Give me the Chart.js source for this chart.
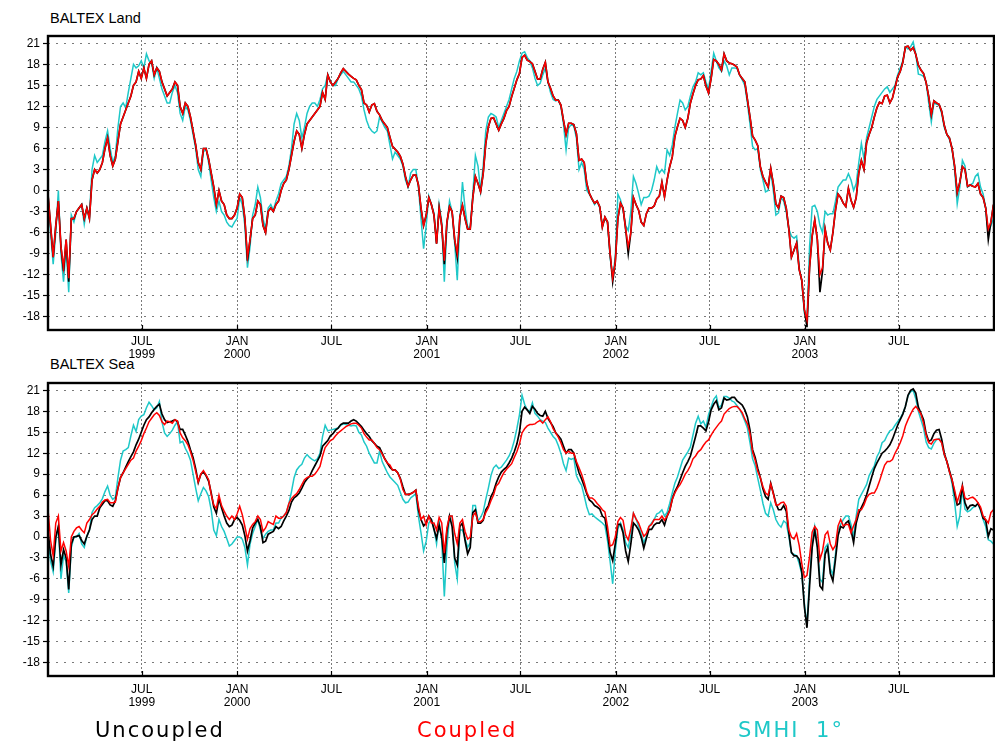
<!DOCTYPE html>
<html>
<head>
<meta charset="utf-8">
<title>BALTEX Land / Sea</title>
<script src="https://cdn.jsdelivr.net/npm/chart.js@4.4.1/dist/chart.umd.min.js"></script>
<style>
  html, body { margin: 0; padding: 0; background: #fff; }
  body { width: 995px; height: 742px; position: relative; overflow: hidden; }
  .panel { position: absolute; left: 0; }
  .txt { position: absolute; white-space: pre; }
  .title { font: 14.5px "Liberation Sans", Arial, sans-serif; line-height: 15px; color: #000; }
  .legend { font: 21px "DejaVu Sans", sans-serif; line-height: 20px; letter-spacing: 2px; }
</style>
</head>
<body>
<div class="txt title" style="left:50px; top:11px;">BALTEX Land</div>
<div class="txt title" style="left:50px; top:357px;">BALTEX Sea</div>

<div class="panel" style="top:0px;"><canvas id="land" width="995" height="372"></canvas></div>
<div class="panel" style="top:372px;"><canvas id="sea" width="995" height="370"></canvas></div>

<div class="txt legend" style="left:95px; top:720px; color:#000;">Uncoupled</div>
<div class="txt legend" style="left:417px; top:720px; color:#ff0000;">Coupled</div>
<div class="txt legend" style="left:738px; top:720px; color:#1ec8c8; word-spacing:8px;">SMHI 1°</div>

<script>
const STEP_DAYS = 5;
const N_POINTS = 366;

// x axis: day of JAN/JUL marks and their labels
const xTickDays = [181, 365, 547, 731, 912, 1096, 1277, 1461, 1642];
const xTickLabels = [['JUL', '1999'], ['JAN', '2000'], 'JUL', ['JAN', '2001'], 'JUL', ['JAN', '2002'], 'JUL', ['JAN', '2003'], 'JUL'];
const yTicks = [-18, -15, -12, -9, -6, -3, 0, 3, 6, 9, 12, 15, 18, 21];

// ---- BALTEX Land ----
const landCoupled = [
  -0.5, -5, -9.5, -5, -1.5, -8, -11, -7, -12.5, -4,
  -4, -3, -2.5, -2, -4, -2.5, -4, 1.5, 3, 2.5,
  3, 4, 6, 7.5, 5, 3.5, 4.5, 7, 9.5, 10.5,
  11.5, 12.5, 13.5, 15, 15.5, 17, 16, 17.5, 16, 18,
  18.5, 16.5, 17.5, 17, 15.5, 14.5, 13.5, 14, 14.5, 15.5,
  15, 12, 11, 12.5, 12, 10.5, 8.5, 6.5, 4, 3,
  6, 6, 4.5, 2.5, 0.5, -2, 0, -1.5, -2, -3.5,
  -4, -4, -3.5, -2.5, -0.5, -1, -4, -9.5, -7, -4,
  -3.5, -1.5, -2, -5, -6, -3, -2.5, -3, -2, -1.5,
  0, 1, 1.5, 3, 5, 7, 8.5, 8, 6, 8,
  9.5, 10, 10.5, 11, 11.5, 12, 14, 13, 16.5, 15.5,
  15, 15.5, 16, 16.8, 17.4, 17, 16.6, 16.3, 16, 15.8,
  15, 14.4, 12.5, 12.2, 11.2, 12.2, 12.4, 11.3, 10.8, 10,
  9.5, 9, 7.6, 6.3, 5.9, 5.5, 4.9, 3.8, 2, 0.6,
  1.5, 2.2, 2.2, 0.8, -2.5, -5, -3.5, -1, -2, -3.5,
  -7.6, -2.5, -5, -10, -4.5, -2.3, -3, -7, -9, -3.8,
  -2.1, -4, -5.5, -5.5, -1, 2, 1, -0.2, 2.4, 6.7,
  9.1, 10.3, 10.4, 9.5, 8.6, 9.5, 10.3, 11.4, 12, 13.4,
  14.6, 15.8, 16.7, 19, 19.3, 18.6, 18.4, 18.1, 17, 15.9,
  15.9, 17.3, 18.3, 15.5, 14.6, 13.5, 12.9, 12.9, 12.2, 10,
  8, 9.6, 9.6, 9.4, 8.1, 4.3, 4.5, 4, 1, -0.4,
  -1.2, -1.8, -1.5, -2.3, -5.2, -3.8, -4.5, -9, -12.5, -10.2,
  -4, -1.8, -2.5, -5.5, -8, -6, -1, -2, -2.8, -4.5,
  -5, -3.3, -2.5, -2.5, -2.2, -1.2, -0.8, 1.2, -0.9, 1.5,
  3.4, 4.8, 7.7, 9.1, 10.3, 10, 9, 10.3, 12.5, 13.8,
  15, 15.8, 15.9, 16.4, 14.9, 13.9, 16, 18.7, 18.5, 18,
  17.2, 19.5, 18.5, 18.2, 18.1, 17.9, 17.6, 16.5, 16, 15.5,
  13, 10.5, 7.8, 7.2, 6.4, 3.4, 2, 1.2, 0.5, 3.2,
  1, -1.9, -2.5, -0.8, -1, -2.5, -5.5, -9.5, -8.5, -7.5,
  -11.3, -12.8, -17, -18.5, -11, -6.5, -4.2, -7, -12, -11,
  -5.5, -7.5, -8.5, -6, -2.8, -0.5, -1, -1.8, -2.3, 0.3,
  -1.4, -2.4, -1, 2.5, 4.3, 3, 6.8, 8, 9, 10.5,
  11.8, 12.6, 12.4, 13.5, 13.6, 12.5, 13.2, 14.7, 16.2, 17,
  18.3, 20.5, 20.6, 20, 20.4, 19.4, 17.9, 17.2, 16.7, 15.4,
  13.4, 10.8, 12.8, 12.5, 12.3, 11.3, 9.3, 8, 7.5, 6,
  3.5, -0.3, 1.2, 3.4, 3, 0.6, 0.8, 0.6, 0.5, 1,
  -0.5, -1, -2.5, -5.5, -4.5, -2
];

const landUncoupled = [
  -0.5, -5, -9.5, -5, -1.5, -8, -11.5, -7, -13, -4,
  -4, -3, -2.5, -2, -4, -2.5, -4, 1.5, 3, 2.5,
  3, 4, 6, 7.5, 5, 3.5, 4.5, 7, 9.5, 10.5,
  11.5, 12.5, 13.5, 15, 15.5, 17, 16, 17.5, 16, 18,
  18.5, 16.5, 17.5, 17, 15.5, 14.5, 13.5, 14, 14.5, 15.5,
  15, 12, 11, 12.5, 12, 10.5, 8.5, 6.5, 4, 3,
  6, 6, 4.5, 2.5, 0.5, -2, 0, -1.5, -2, -3.5,
  -4, -4, -3.5, -2.5, -0.5, -1, -4, -10, -7, -4,
  -3.5, -1.5, -2, -5, -6, -3, -2.5, -3, -2, -1.5,
  0, 1, 1.5, 3, 5, 7, 8.5, 8, 6, 8,
  9.5, 10, 10.5, 11, 11.5, 12, 14, 13, 16.5, 15.5,
  15, 15.5, 16, 16.8, 17.4, 17, 16.6, 16.3, 16, 15.8,
  15, 14.4, 12.5, 12.2, 11.2, 12.2, 12.4, 11.3, 10.8, 10,
  9.5, 9, 7.6, 6.3, 5.9, 5.5, 4.9, 3.8, 2, 0.6,
  1.5, 2.2, 2.2, 0.8, -2.5, -5, -3.5, -1, -2, -3.5,
  -7.6, -2.5, -5, -10.5, -4.5, -2.3, -3, -7, -9.5, -3.8,
  -2.1, -4, -5.5, -5.5, -1, 2, 1, -0.2, 2.4, 6.7,
  9.1, 10.3, 10.4, 9.5, 8.6, 9.5, 10.3, 11.4, 12, 13.4,
  14.6, 15.8, 16.7, 19, 19.3, 18.6, 18.4, 18.1, 17, 15.9,
  15.9, 17.3, 18.3, 15.5, 14.6, 13.5, 12.9, 12.9, 12.2, 10,
  8, 9.6, 9.6, 9.4, 8.1, 4.3, 4.5, 4, 1, -0.4,
  -1.2, -1.8, -1.5, -2.3, -5.2, -3.8, -4.5, -9, -13, -10.2,
  -4, -1.8, -2.5, -5.5, -9, -6, -1, -2, -2.8, -4.5,
  -5, -3.3, -2.5, -2.5, -2.2, -1.2, -0.8, 1.2, -0.9, 1.5,
  3.4, 4.8, 7.7, 9.1, 10.3, 10, 9, 10.3, 12.5, 13.8,
  15, 15.8, 15.9, 16.4, 14.9, 13.9, 16, 18.7, 18.5, 18,
  17.2, 19.5, 18.5, 18.2, 18.1, 17.9, 17.6, 16.5, 16, 15.5,
  13, 10.5, 7.8, 7.2, 6.4, 3.4, 2, 1.2, 0.5, 3.2,
  1, -1.9, -2.5, -0.8, -1, -2.5, -5.5, -9.5, -8.5, -7.5,
  -11.3, -12.8, -17, -19.5, -11, -6.5, -4.2, -7, -14.5, -11.5,
  -5.5, -7.5, -8.5, -6, -2.8, -0.5, -1, -1.8, -2.3, 0.3,
  -1.4, -2.4, -1, 2.5, 4.3, 3, 6.8, 8, 9, 10.5,
  11.8, 12.6, 12.4, 13.5, 13.6, 12.5, 13.2, 14.7, 16.2, 17,
  18.3, 20.5, 20.6, 20, 20.4, 19.4, 17.9, 17.2, 16.7, 15.4,
  13.4, 10.8, 12.8, 12.5, 12.3, 11.3, 9.3, 8, 7.5, 6,
  3.5, -0.3, 1.2, 3.4, 3, 0.6, 0.8, 0.6, 0.5, 1,
  -0.5, -1, -2.5, -7, -4.5, -2
];

const landSmhi = [
  -1, -6, -10.5, -6, 0, -9, -13, -8, -14.5, -3.5,
  -4.5, -3, -2.5, -2, -4.8, -2.5, -3.5, 3, 5, 4,
  4.5, 5, 7, 8.5, 6, 4, 5, 9, 12, 12.5,
  11.8, 14, 16, 18, 17.5, 17.8, 18.5, 17.5, 19.5, 18.5,
  18.2, 16, 17.5, 16, 14.5, 13.5, 12.5, 12.5, 14, 15,
  14, 11, 10, 12, 11.5, 10, 8, 6, 3, 2,
  5.5, 6, 4, 1.5, -1, -3, -1.5, -3, -3.5, -4.5,
  -5, -5.2, -4.5, -4, -1, -2, -5, -11, -8, -3.5,
  -2, 0.5, -1, -4, -5.5, -2.5, -2, -2.8, -1.5, -0.5,
  1, 1.5, 2, 3.5, 6, 9.5, 11, 10, 7.5, 9,
  11, 12, 12.5, 12.5, 12, 13, 14.5, 15, 16.5, 15.5,
  15, 15, 16, 16.5, 17, 16.5, 16, 15.5, 15.5, 15,
  14.5, 13.5, 11.5, 10, 9, 8.5, 8.2, 8.5, 10.5, 9.8,
  9, 8.5, 6.5, 4.5, 5.5, 5, 4.5, 3.5, 1.5, 0.5,
  2.5, 3, 3, 0.5, -4, -8.3, -5, -0.8, -2, -3.2,
  -7.5, -2, -4.5, -13, -5, -1.5, -3, -7.5, -12.8, -4.5,
  1.2, -2.5, -5.2, -5.3, -0.5, 5, 3.5, 0, 3.5, 8.5,
  10.5, 11, 10.8, 10.5, 9, 10, 11, 12, 13, 14.5,
  16, 17, 18.5, 19.6, 19.8, 19, 18.5, 17.5, 16, 15,
  15.3, 16.5, 17.5, 15.5, 14, 13, 12.8, 12.9, 12, 9.5,
  5.8, 9, 9.4, 9.2, 7.5, 3, 4, 3, 0, -0.5,
  -1.2, -2, -1.5, -2.5, -5, -4, -4.5, -9.5, -12.3, -9.5,
  -0.5, -1.3, -2.8, -5, -5.7, -3, 2, 1, -0.4, -2,
  -1, -1, -0.8, 0, 1.5, 3.4, 2.5, 3, 2.5, 5.8,
  5, 6.5, 9, 11, 12.9, 12.5, 11.5, 12, 13.5, 14.8,
  15.5, 16.8, 16.5, 16.8, 15.5, 14.5, 17, 19.6, 18.5, 17.5,
  17, 18.5, 17.8, 16.5, 17.5, 17.5, 17.4, 16.5, 15.8, 15,
  12.5, 9.5, 6.3, 5.8, 6, 3, 1.5, -0.2, 0, 2.8,
  0, -3.5, -3.2, -1, -1.5, -3, -5.5, -6.5, -6.8, -6.5,
  -11, -13, -17.5, -18.5, -8, -2.3, -2.1, -3, -5, -6,
  -3, -3.5, -3.3, -3.3, -1.5, 0.5, 1, 1.5, 1.5, 2.4,
  1.5, 0, 1, 4, 6.7, 4.5, 7.5, 9, 10.5, 12,
  13, 13.5, 14, 14.5, 14.8, 14, 14.5, 15, 16.5, 17.5,
  18.5, 20.5, 20.2, 20.5, 21.2, 19.5, 16.6, 16.5, 16.3, 15.5,
  12.5, 9.8, 12.5, 12.3, 12.2, 11, 9, 8, 7.3, 6,
  3, -1.9, 0.5, 4.3, 3.5, 0.5, 0.8, 1, 2, 2.4,
  0.5, -0.5, -2.5, -6, -5, -4
];

// ---- BALTEX Sea ----
const seaCoupled = [
  4, -0.5, -2.7, 2, 3, -2, -0.8, -2, -4.2, 0,
  0.8, 1.3, 1.5, 1, 0.6, 2, 2.5, 3.2, 3.5, 4,
  4.4, 5, 5.3, 5.4, 4.9, 4.9, 5, 7, 8.5, 9.2,
  9.8, 10.4, 11, 11.3, 12.3, 13, 13.8, 14.8, 15.6, 16.5,
  17, 17.5, 17.8, 17.4, 16.5, 16.1, 16.6, 16.5, 16.3, 16.8,
  16.6, 14.9, 14.2, 13.8, 13.2, 12.2, 11, 9.4, 7.9, 9,
  9.5, 8.9, 8.2, 6.1, 4.6, 4.1, 6, 4.5, 3.7, 3,
  2.5, 3, 2.5, 3.3, 4.4, 3.2, 1.5, -0.3, 1.2, 1.8,
  2.2, 3, 2.5, 0.8, 1.3, 2.2, 2, 1.8, 3, 2.7,
  2.7, 3, 3.5, 4.8, 5.5, 5.9, 6.2, 6.8, 7.5, 8.2,
  8.5, 8.7, 8.7, 9, 9.5, 10.1, 11.6, 12.8, 13.3, 13.8,
  14, 14.5, 14.9, 15.2, 15.5, 15.8, 16, 16.2, 16.3, 16.3,
  16, 15.6, 14.8, 14.3, 13.9, 13.9, 13.4, 12.8, 12.5, 11.9,
  11.2, 10.6, 10.3, 9.6, 9.6, 9.2, 8.3, 6.8, 6.1, 6.1,
  6.2, 6.4, 6.7, 4.4, 2.5, 3, 1.7, 3, 2, 2,
  1, 2.8, 2, -2.3, 1.3, 3, 3, 0.5, -1, 2,
  2.5, 0.8, -0.3, 0, 3, 3.5, 2.2, 2.2, 2.5, 3.5,
  4.2, 5.2, 6, 7.3, 7.7, 8.5, 9.2, 9.7, 10.1, 10.5,
  11.4, 12.2, 13.3, 14.9, 15.5, 15.9, 16.1, 16.1, 16.2, 16.5,
  16.7, 16.3, 16.8, 17.2, 16.5, 15.5, 14.9, 14.3, 13.5, 12.5,
  12, 12.3, 12, 12, 10.8, 9.9, 9, 7.8, 6.4, 5.6,
  5.6, 5.3, 4.8, 4.4, 3.9, 3.6, 1.5, -1.3, -1.1, 0,
  2.2, 2.8, 2.4, 0.3, -0.4, 1.2, 3.4, 2.6, 2, 1,
  0.1, 0.5, 1.5, 1.8, 2.5, 2.5, 2.5, 3, 2.4, 3,
  3.8, 5.4, 6.3, 7, 7.5, 8.2, 9, 9.5, 10.2, 11.2,
  11.6, 12.2, 12.5, 13.1, 13.6, 13.9, 14.6, 15.2, 15.7, 16.2,
  16.6, 17.6, 18, 18.4, 18.6, 18.7, 18.7, 18.3, 17.8, 16.9,
  16.2, 14.8, 12.2, 11, 9.4, 8.5, 7.2, 6.3, 6, 7.6,
  6.2, 4.6, 4.6, 4.9, 5, 4.4, 1, 0, -0.3, 0.5,
  -1.2, -3.8, -5.8, -5.5, -2.8, 0.7, 1.5, 1, -3.2, -2,
  0.3, 0.8, -1, -1.8, -1.2, 1.6, 2.5, 1.6, 1.8, 1.8,
  0.6, 1.6, 2.5, 3.9, 3.9, 4.6, 5.6, 6.1, 6.3, 6.3,
  7, 8, 9.2, 10.3, 10.8, 10.8, 11.1, 12, 12.7, 13.5,
  14.5, 15.9, 16.8, 17.6, 18.3, 18.7, 18.2, 17.6, 16.3, 14.6,
  13.5, 13.3, 13.9, 14, 14, 13.5, 11.8, 10.8, 9.3, 8.2,
  6.7, 5, 6.2, 7.3, 5.6, 5.4, 5.6, 5.7, 5.4, 4.9,
  4.3, 3, 2.5, 2, 3.5, 3.9
];

const seaUncoupled = [
  1, -2.5, -4.2, 0, 1.5, -4, -1.8, -3, -7.5, -1,
  0, 0.1, 0.2, -0.5, -1, 0.1, 1, 2.5, 3, 3,
  4.2, 4.7, 5.2, 5.2, 4.6, 4.4, 5.2, 7, 8.5, 9.2,
  10, 10.8, 11.5, 12.2, 13.2, 14, 15, 16, 16.8, 17.2,
  17.8, 18.3, 18.7, 19, 17.6, 16.8, 16.4, 16.5, 16.6, 16.8,
  16.5, 15.4, 15.4, 14.6, 13.7, 12.5, 11.4, 9.8, 7.8, 9,
  9.3, 8.8, 8, 6.3, 4.3, 3.4, 5.5, 4.2, 3, 2,
  1.5, 1.7, 2.5, 2.8, 2.4, 1.7, 0.2, -2, -0.5, 1.3,
  2, 2.5, 1.5, -0.8, -0.6, 0.4, 0.6, 0.8, 1.5, 1.2,
  1.5, 2.3, 3, 3.8, 5, 5.6, 5.9, 6.3, 7, 7.8,
  8.3, 8.7, 9.5, 10.2, 10.9, 11.6, 13, 13.4, 13.8, 14.5,
  14.8, 15.3, 15.6, 16.1, 16.3, 16.3, 16.3, 16.6, 16.8, 16.6,
  16.2, 15.8, 15.3, 14.8, 14.4, 13.8, 13.4, 13, 12.8, 12,
  11.2, 10.6, 10, 9.6, 9.6, 9.2, 8.4, 7.2, 6.1, 6.1,
  6.2, 6.4, 6.7, 3.9, 2.5, 1.6, 2, 3, 2.5, 1.1,
  -0.2, 1.7, 0, -3.7, 0.8, 3, 1.5, -3, -4, 1.5,
  2, -0.5, -2.4, -1.5, 3.5, 3.9, 2, 2, 2.4, 3.9,
  4.5, 5.8, 6.5, 7.7, 8.6, 9.3, 9.7, 10, 10.6, 11.3,
  12.2, 13.3, 15, 18, 18.6, 18.2, 17.7, 18.7, 18.3, 17.7,
  17.4, 17.3, 18, 17, 16.4, 15.8, 14.9, 14.5, 14, 13,
  12, 12.5, 12.5, 12, 10.5, 9.2, 8.3, 7.3, 6.2, 5.3,
  5, 4.5, 4.3, 4, 3, 2.7, 0.5, -2.2, -3.4, -1,
  1.8, 1.8, 0.6, -2, -3.5, -1, 2, 1.6, 1, 0,
  -1.6, -0.2, 1.1, 1.1, 1.7, 2, 2, 2.5, 1.7, 3,
  3.8, 5.4, 6.5, 7.2, 8.2, 9.2, 10.1, 10.8, 11.6, 13,
  14.4, 15.9, 15.9, 15.6, 15.2, 16.5, 18.2, 19, 19.5, 18.2,
  18.5, 19.9, 19.6, 19.7, 20, 20, 19.5, 19.2, 18.9, 18.2,
  17.2, 15.3, 12.5, 11.4, 9.8, 8.5, 6.9, 5.8, 5.4, 7.7,
  6.3, 4.8, 3.9, 3.9, 4.5, 3.7, 0.6, -2.2, -2.7, -2.7,
  -3.2, -5, -10, -13, -7, -1.5, 1, -1.5, -7, -7.5,
  -2.5, -1.5, -5.2, -6.3, -3.2, 0.2, 1.5, 1.3, 2, 2.3,
  1, -0.8, 2, 3.4, 4.2, 5, 6, 7.3, 8.6, 9.8,
  10.6, 11.3, 12, 12.3, 12.7, 13.2, 14, 15, 16, 16.8,
  17.6, 18.7, 20.3, 21, 21.2, 20.6, 18.6, 17.7, 16.8, 14.8,
  13.7, 13.9, 14.8, 15.3, 15.4, 14, 12, 10.8, 9.5, 8.2,
  6.2, 4.6, 4.8, 7.3, 4.9, 4, 4.5, 4.6, 4.4, 4.8,
  4, 2.7, 2.4, 0.1, 1.2, 1
];

const seaSmhi = [
  0, -3.5, -5, -0.5, 1.5, -6, -2.7, -3.5, -8, -1.5,
  0, 0, 0.5, -1, -1.5, 0.1, 1, 3.5, 4.2, 4.5,
  4.9, 5.5, 6.5, 7.3, 6, 5.4, 5.7, 8.5, 11, 12.3,
  12.5, 12.8, 14.5, 16, 15.1, 16.8, 17.3, 17.5, 18.5, 19.3,
  18.8, 18.2, 18.5, 19.4, 16.5, 14.9, 14.4, 14.8, 15.3, 16,
  16.5, 13.5, 13.7, 12.7, 12, 11, 9, 7, 5.2, 6.2,
  7.1, 6.6, 5.8, 3.9, 1, 0.2, 2.5, 1.5, 0.8, -0.2,
  -1.3, -1, -0.5, 0, 0, -0.3, -1.5, -4, -1, 0.5,
  1.5, 2.5, 1, -0.2, 0.4, 0.8, 1, 1, 2, 2,
  2.7, 3, 3.5, 4.8, 6.5, 8.5, 9.6, 10.1, 10.4, 11.3,
  11.8, 11.4, 11.1, 10.9, 11.2, 12, 14.4, 16, 15.2, 15.3,
  15.4, 15.5, 15.6, 16, 16.2, 16.1, 16, 15.9, 16, 15.9,
  15, 14.6, 13.6, 13, 12, 11.3, 10.6, 10.6, 12.3, 10.8,
  10, 9.2, 8.6, 8.2, 7.8, 7.4, 6.4, 5.4, 4.9, 5,
  5.6, 5.9, 6.2, 3, 0.6, -2, -0.6, 2, 2.5, 1.2,
  -1, 2.2, -0.5, -8.5, -1.5, 3, 3, -3.7, -6, 1,
  1, -0.2, -1.5, -0.8, 4.5, 4.5, 2.3, 2.8, 3.6, 5.4,
  7, 8.8, 9.9, 10.3, 9.8, 10, 10.5, 11, 11.6, 12.5,
  13.8, 15.5, 17.5, 20.3, 19, 18.2, 18, 19.2, 17.7, 17.3,
  16.8, 16.6, 16.4, 15.6, 15, 14.4, 14, 13.1, 12, 10.5,
  9.5, 11.3, 11.1, 11.3, 8.8, 8, 7.4, 5.9, 4.3, 3.2,
  3.3, 2.9, 2.6, 2.3, 2, 1.6, -0.5, -3.5, -6.7, -2,
  1.2, 2, 1, -0.8, -1.5, 0.3, 3.4, 2.6, 1.5, 0.4,
  -0.8, 0.1, 1.5, 2, 2.5, 3.3, 3.5, 3.9, 3, 3.5,
  4.8, 6.3, 7.7, 8.6, 9.8, 11, 11.6, 12.2, 12.9, 14.6,
  16.3, 17.3, 16.2, 16.6, 15.7, 17.5, 18.6, 19.7, 20.2, 18.5,
  18.9, 20.1, 20.1, 19.9, 19.5, 19.3, 18.8, 18.3, 17.5, 16.6,
  15.6, 13.5, 11.2, 10.2, 8.4, 6.7, 4.8, 3.4, 3, 4.9,
  3.9, 2.5, 1.8, 1.4, 2.3, 2, 0.1, -2.3, -2.5, -2.7,
  -3.8, -5.3, -9.5, -12.7, -6, -0.8, 1.5, -1, -6, -6.5,
  -1.5, -1, -4.5, -5.4, -2.5, 1, 1.8, 2.5, 3, 3,
  1.8, 0.1, 3, 5.4, 6.1, 6.8, 7.5, 8.8, 9.5, 10.2,
  11.5, 12.2, 13.5, 13.8, 14.6, 15.2, 15.4, 16, 16.5, 17,
  17.7, 18.7, 20.2, 20.8, 21, 19.8, 18, 16.8, 15.6, 13.6,
  12.8, 12.6, 13.4, 13.9, 14.1, 13.5, 11.7, 10.8, 9.3, 7.7,
  5, 1.5, 3, 6.8, 4, 3.6, 3.8, 4.2, 4.4, 4.8,
  3.8, 2.5, 1.5, -0.4, -0.6, -1
];

// x positions (days since 1 Jan 1999) of the samples
const days = [];
for (let i = 0; i < N_POINTS; i++) days.push(i * STEP_DAYS);

const FONT = '"Liberation Sans", Arial, sans-serif';

// thick frame round the plot area + short inward ticks on the time axis
const framePlugin = {
  id: 'frame',
  afterDraw(chart) {
    const { ctx, chartArea: a, scales } = chart;
    ctx.save();
    ctx.strokeStyle = '#000';
    ctx.lineWidth = 1.2;
    ctx.beginPath();
    xTickDays.forEach(d => {
      const x = Math.round(scales.x.getPixelForValue(d)) + 0.5;
      ctx.moveTo(x, a.bottom);
      ctx.lineTo(x, a.bottom - 5);
    });
    ctx.stroke();
    ctx.lineWidth = 2.4;
    ctx.strokeRect(a.left, a.top, a.right - a.left, a.bottom - a.top);
    ctx.restore();
  }
};

function makePanel(canvasId, coupled, uncoupled, smhi, padTop, xAxisHeight, labelPad) {
  const ctx = document.getElementById(canvasId).getContext('2d');
  return new Chart(ctx, {
    type: 'line',
    data: {
      labels: days,
      datasets: [
        // dataset 0 ends up on top
        { label: 'Coupled', data: coupled, borderColor: '#ff0000', borderWidth: 1.5 },
        { label: 'Uncoupled', data: uncoupled, borderColor: '#000000', borderWidth: 1.7 },
        { label: 'SMHI 1°', data: smhi, borderColor: '#1ec8c8', borderWidth: 1.5 }
      ]
    },
    options: {
      responsive: false,
      animation: false,
      devicePixelRatio: 1,
      layout: { padding: { top: padTop, right: 1, left: 0, bottom: 0 } },
      elements: {
        point: { radius: 0 },
        line: { tension: 0, fill: false }
      },
      plugins: {
        legend: { display: false },
        tooltip: { enabled: false },
        title: { display: false }
      },
      scales: {
        x: {
          type: 'linear',
          min: 0,
          max: 1826,
          afterFit: (scale) => { scale.height = xAxisHeight; },
          afterBuildTicks: (scale) => { scale.ticks = xTickDays.map(v => ({ value: v })); },
          // in v4 the dash of the grid lines sits under border
          border: { display: false, dash: [2, 2] },
          grid: {
            color: '#7a7a7a',
            lineWidth: 1,
            drawTicks: false
          },
          ticks: {
            autoSkip: false,
            maxRotation: 0,
            padding: labelPad,
            color: '#000',
            font: { family: FONT, size: 12, lineHeight: 1.1 },
            callback: (value, index) => xTickLabels[index]
          }
        },
        y: {
          min: -19.9,
          max: 22.05,
          afterFit: (scale) => { scale.width = 48; },
          afterBuildTicks: (scale) => { scale.ticks = yTicks.map(v => ({ value: v })); },
          border: { display: false, dash: [2, 6] },
          grid: {
            color: '#7a7a7a',
            lineWidth: 1,
            drawTicks: true,
            tickLength: 5,
            tickColor: '#000',
            tickWidth: 1.2,
            tickBorderDash: []
          },
          ticks: {
            padding: 3,
            color: '#000',
            font: { family: FONT, size: 12 },
            callback: (value) => String(value)
          }
        }
      }
    },
    plugins: [framePlugin]
  });
}

makePanel('land', landCoupled, landUncoupled, landSmhi, 36, 42, 5);
makePanel('sea', seaCoupled, seaUncoupled, seaSmhi, 11, 66, 7);
</script>
</body>
</html>
